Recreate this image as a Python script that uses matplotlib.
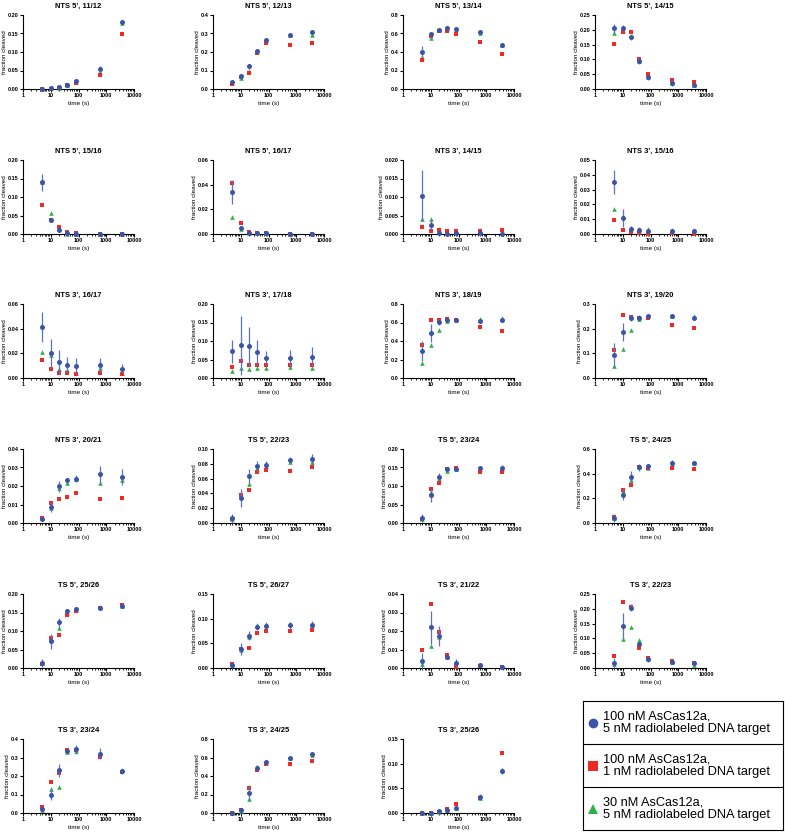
#!/usr/bin/env python3

import matplotlib
matplotlib.use("Agg")
import matplotlib.pyplot as plt
import numpy as np
from matplotlib.ticker import FormatStrFormatter, LogLocator, NullFormatter

plt.rcParams["font.family"] = ["Liberation Sans", "DejaVu Sans"]
plt.rcParams["font.weight"] = "bold"

time_s = [5, 10, 20, 40, 80, 600, 3600]

titles = ["NTS 5', 11/12", "NTS 5', 12/13", "NTS 5', 13/14", "NTS 5', 14/15",
          "NTS 5', 15/16", "NTS 5', 16/17", "NTS 3', 14/15", "NTS 3', 15/16",
          "NTS 3', 16/17", "NTS 3', 17/18", "NTS 3', 18/19", "NTS 3', 19/20",
          "NTS 3', 20/21", "TS 5', 22/23", "TS 5', 23/24", "TS 5', 24/25",
          "TS 5', 25/26", "TS 5', 26/27", "TS 3', 21/22", "TS 3', 22/23",
          "TS 3', 23/24", "TS 3', 24/25", "TS 3', 25/26"]

y_max = [0.20, 0.4, 0.8, 0.25, 0.20, 0.06, 0.020, 0.05, 0.06, 0.20, 0.8, 0.3,
         0.04, 0.10, 0.20, 0.6, 0.20, 0.15, 0.04, 0.25, 0.4, 0.8, 0.15]
y_step = [0.05, 0.1, 0.2, 0.05, 0.05, 0.02, 0.005, 0.01, 0.02, 0.05, 0.2, 0.1,
          0.01, 0.02, 0.05, 0.2, 0.05, 0.05, 0.01, 0.05, 0.1, 0.2, 0.05]

# 100 nM AsCas12a, 5 nM target (mean +/- sd)
enz100_t5 = [
    [0.001, 0.002, 0.005, 0.012, 0.022, 0.053, 0.181],
    [0.036, 0.068, 0.122, 0.206, 0.265, 0.294, 0.307],
    [0.402, 0.598, 0.640, 0.658, 0.644, 0.612, 0.480],
    [0.205, 0.205, 0.175, 0.096, 0.040, 0.020, 0.015],
    [0.140, 0.038, 0.011, 0.004, 0.001, 0.001, 0.000],
    [0.034, 0.005, 0.001, 0.0005, 0.0005, 0.0002, 0.0002],
    [0.0104, 0.0025, 0.0003, 0.0001, 0.0002, 0.0003, 0.0001],
    [0.035, 0.011, 0.0036, 0.003, 0.0023, 0.0023, 0.002],
    [0.0413, 0.020, 0.0128, 0.0104, 0.0099, 0.0104, 0.0077],
    [0.072, 0.088, 0.0853, 0.069, 0.054, 0.054, 0.058],
    [0.295, 0.487, 0.608, 0.623, 0.626, 0.619, 0.626],
    [0.093, 0.187, 0.243, 0.243, 0.252, 0.253, 0.243],
    [0.002, 0.0086, 0.0198, 0.023, 0.024, 0.0264, 0.0248],
    [0.0063, 0.034, 0.063, 0.077, 0.079, 0.085, 0.086],
    [0.0134, 0.075, 0.125, 0.1446, 0.147, 0.149, 0.149],
    [0.04, 0.23, 0.37, 0.45, 0.461, 0.488, 0.488],
    [0.0143, 0.072, 0.124, 0.153, 0.160, 0.162, 0.167],
    [0.0067, 0.0377, 0.065, 0.0827, 0.0854, 0.0867, 0.088],
    [0.0036, 0.0219, 0.0174, 0.0059, 0.0027, 0.0014, 0.0007],
    [0.0168, 0.1435, 0.204, 0.080, 0.029, 0.021, 0.0157],
    [0.02, 0.10, 0.23, 0.335, 0.345, 0.32, 0.225],
    [0.0, 0.03, 0.22, 0.49, 0.55, 0.595, 0.64],
    [0.0, 0.001, 0.004, 0.007, 0.010, 0.032, 0.085],
]
enz100_t5_sd = [
    [0.001, 0.001, 0.002, 0.004, 0.004, 0.010, 0.002],
    [0.005, 0.015, 0.015, 0.008, 0.006, 0.005, 0.005],
    [0.06, 0.02, 0.015, 0.02, 0.01, 0.01, 0.01],
    [0.015, 0.01, 0.008, 0.01, 0.008, 0.01, 0.006],
    [0.023, 0.002, 0.002, 0.001, 0.001, 0.001, 0.001],
    [0.010, 0.0005, 0.0005, 0.0003, 0.0003, 0.0002, 0.0002],
    [0.007, 0.0013, 0.0003, 0.0001, 0.0002, 0.0003, 0.0001],
    [0.008, 0.006, 0.002, 0.0015, 0.001, 0.001, 0.001],
    [0.012, 0.0115, 0.0095, 0.0065, 0.0062, 0.0056, 0.004],
    [0.031, 0.08, 0.052, 0.034, 0.02, 0.023, 0.025],
    [0.11, 0.095, 0.035, 0.015, 0.01, 0.015, 0.015],
    [0.05, 0.036, 0.012, 0.013, 0.005, 0.003, 0.008],
    [0.001, 0.0029, 0.003, 0.0013, 0.002, 0.0046, 0.0042],
    [0.006, 0.012, 0.0095, 0.007, 0.005, 0.004, 0.007],
    [0.011, 0.017, 0.011, 0.003, 0.002, 0.005, 0.007],
    [0.035, 0.042, 0.048, 0.025, 0.02, 0.025, 0.01],
    [0.011, 0.02, 0.012, 0.003, 0.005, 0.006, 0.003],
    [0.006, 0.012, 0.009, 0.006, 0.006, 0.007, 0.007],
    [0.0045, 0.0088, 0.0053, 0.0013, 0.002, 0.001, 0.0005],
    [0.018, 0.042, 0.013, 0.003, 0.008, 0.008, 0.003],
    [0.01, 0.03, 0.035, 0.01, 0.025, 0.03, 0.015],
    [0.005, 0.01, 0.08, 0.03, 0.02, 0.01, 0.01],
    [0.0, 0.001, 0.002, 0.002, 0.003, 0.006, 0.006],
]
# 100 nM AsCas12a, 1 nM target
enz100_t1 = [
    [0.0, 0.001, 0.002, 0.010, 0.015, 0.038, 0.149],
    [0.027, 0.065, 0.086, 0.194, 0.251, 0.239, 0.249],
    [0.313, 0.573, 0.623, 0.623, 0.598, 0.505, 0.377],
    [0.151, 0.194, 0.192, 0.101, 0.049, 0.031, 0.024],
    [0.078, 0.037, 0.019, 0.005, 0.002, 0.001, 0.001],
    [0.041, 0.0089, 0.0016, 0.001, 0.001, 0.0003, 0.0003],
    [0.0019, 0.0008, 0.001, 0.0008, 0.0008, 0.0007, 0.0011],
    [0.0097, 0.003, 0.0011, 0.0005, 0.0003, 0.0005, 0.0003],
    [0.0144, 0.0069, 0.0037, 0.0037, 0.0032, 0.0037, 0.0032],
    [0.031, 0.045, 0.036, 0.036, 0.036, 0.036, 0.035],
    [0.36, 0.623, 0.626, 0.633, 0.626, 0.55, 0.512],
    [0.115, 0.255, 0.247, 0.244, 0.244, 0.216, 0.201],
    [0.0029, 0.011, 0.013, 0.0138, 0.016, 0.0132, 0.0134],
    [0.006, 0.0375, 0.044, 0.069, 0.072, 0.070, 0.075],
    [0.01, 0.091, 0.107, 0.146, 0.148, 0.138, 0.138],
    [0.051, 0.271, 0.306, 0.453, 0.442, 0.442, 0.437],
    [0.012, 0.0816, 0.0897, 0.1435, 0.153, 0.161, 0.171],
    [0.0074, 0.039, 0.040, 0.0706, 0.0753, 0.0753, 0.0773],
    [0.010, 0.0344, 0.0194, 0.0068, 0.0004, 0.0011, 0.0004],
    [0.041, 0.222, 0.205, 0.066, 0.034, 0.0247, 0.0157],
    [0.03, 0.165, 0.215, 0.34, 0.34, 0.305, 0.22],
    [0.0, 0.03, 0.27, 0.47, 0.53, 0.53, 0.56],
    [0.0, 0.001, 0.003, 0.008, 0.019, 0.030, 0.122],
]
# 30 nM AsCas12a, 5 nM target
enz30_t5 = [
    [0.001, 0.002, 0.004, 0.011, 0.019, 0.045, 0.178],
    [0.030, 0.058, 0.100, 0.200, 0.260, 0.290, 0.294],
    [0.350, 0.548, 0.640, 0.650, 0.645, 0.610, 0.480],
    [0.190, 0.200, 0.180, 0.095, 0.040, 0.020, 0.012],
    [0.140, 0.057, 0.015, 0.001, 0.0, 0.0, 0.0],
    [0.0135, 0.004, 0.001, 0.0005, 0.0005, 0.0, 0.0],
    [0.0041, 0.004, 0.0013, 0.0005, 0.0005, 0.0012, 0.0008],
    [0.0167, 0.0124, 0.0043, 0.003, 0.0036, 0.0025, 0.003],
    [0.0208, 0.0184, 0.0075, 0.0067, 0.004, 0.0085, 0.004],
    [0.020, 0.027, 0.024, 0.027, 0.026, 0.031, 0.026],
    [0.167, 0.356, 0.516, 0.616, 0.626, 0.640, 0.648],
    [0.050, 0.119, 0.196, 0.240, 0.252, 0.253, 0.253],
    [0.0025, 0.008, 0.019, 0.0218, 0.024, 0.0216, 0.0234],
    [0.005, 0.036, 0.053, 0.074, 0.077, 0.082, 0.082],
    [0.012, 0.085, 0.120, 0.140, 0.147, 0.147, 0.146],
    [0.04, 0.26, 0.35, 0.45, 0.445, 0.48, 0.485],
    [0.013, 0.075, 0.107, 0.150, 0.158, 0.164, 0.168],
    [0.006, 0.036, 0.062, 0.088, 0.0887, 0.089, 0.087],
    [0.002, 0.0117, 0.017, 0.006, 0.003, 0.0014, 0.0008],
    [0.015, 0.0987, 0.140, 0.0953, 0.030, 0.020, 0.010],
    [0.015, 0.13, 0.14, 0.33, 0.335, 0.325, 0.23],
    [0.0, 0.02, 0.15, 0.50, 0.54, 0.59, 0.63],
    [0.0, 0.001, 0.003, 0.006, 0.010, 0.030, 0.088],
]

legend_labels = ["100 nM AsCas12a,\n5 nM radiolabeled DNA target",
                 "100 nM AsCas12a,\n1 nM radiolabeled DNA target",
                 "30 nM AsCas12a,\n5 nM radiolabeled DNA target"]

BLUE = "#3a55a7"
EBLUE = "#5a72c0"
RED = "#ee2a27"
GREEN = "#2fb04a"

W, H = 785, 832
fig = plt.figure(figsize=(W / 100, H / 100), dpi=100)


def axes_px(left, top, width, height):
    return fig.add_axes([left / W, 1 - (top + height) / H, width / W, height / H])


col_left = [23, 213, 403, 595]
row_top = [15, 160, 304, 449, 594, 739]
ax_w, ax_h = 111, 74

for i, title in enumerate(titles):
    ax = axes_px(col_left[i % 4], row_top[i // 4], ax_w, ax_h)
    t = np.array(time_s)
    b = np.array(enz100_t5[i])
    sd = np.array(enz100_t5_sd[i])
    lo = np.minimum(sd, b)

    ax.plot(t, enz30_t5[i], "^", color=GREEN, ms=3.3, mew=0, clip_on=False, zorder=3)
    ax.plot(t, enz100_t1[i], "s", color=RED, ms=3.3, mew=0, clip_on=False, zorder=3)
    ax.errorbar(t, b, yerr=[lo, sd], fmt="o", color=BLUE, ecolor=EBLUE, ms=3.6,
                mew=0, elinewidth=0.9, capsize=1.8, capthick=0.9,
                clip_on=False, zorder=4)

    ax.set_xscale("log")
    ax.set_xlim(1, 10000)
    ax.set_xticks([1, 10, 100, 1000, 10000])
    ax.set_xticklabels(["1", "10", "100", "1000", "10000"])
    ax.xaxis.set_minor_locator(LogLocator(base=10, subs=np.arange(2, 10)))
    ax.xaxis.set_minor_formatter(NullFormatter())

    ymax, step = y_max[i], y_step[i]
    dec = len(f"{step:g}".split(".")[1])
    ax.set_ylim(0, ymax)
    ax.set_yticks(np.arange(0, ymax + step / 2, step))
    ax.yaxis.set_major_formatter(FormatStrFormatter(f"%.{dec}f"))

    for s in ("top", "right"):
        ax.spines[s].set_visible(False)
    for s in ("left", "bottom"):
        ax.spines[s].set_linewidth(0.8)
    ax.tick_params(which="major", direction="out", length=2.2, width=0.8,
                   labelsize=4.0, pad=0.8)
    ax.tick_params(which="minor", direction="out", length=1.5, width=0.6)
    ax.set_title(title, fontsize=5.4, fontweight="bold", pad=5)
    ax.set_xlabel("time (s)", fontsize=4.6, labelpad=2)
    ax.set_ylabel("fraction cleaved", fontsize=4.5, labelpad=0.5)

# legend panel
lax = axes_px(583, 701, 200, 129)
lax.set_xlim(0, 1)
lax.set_ylim(0, 1)
lax.set_xticks([])
lax.set_yticks([])
for s in lax.spines.values():
    s.set_linewidth(0.8)
for y in (1 / 3, 2 / 3):
    lax.axhline(y, color="black", lw=0.8)
styles = [("o", BLUE, 7), ("s", RED, 6.5), ("^", GREEN, 6.5)]
for k, (lbl, (mk, c, ms)) in enumerate(zip(legend_labels, styles)):
    yc = 1 - (k + 0.5) / 3
    lax.plot([0.05], [yc], mk, color=c, ms=ms, mew=0)
    lax.text(0.1, yc, lbl, fontsize=9.2, fontweight="normal",
             va="center", ha="left", linespacing=1.1)

fig.savefig("out.png", dpi=100)
